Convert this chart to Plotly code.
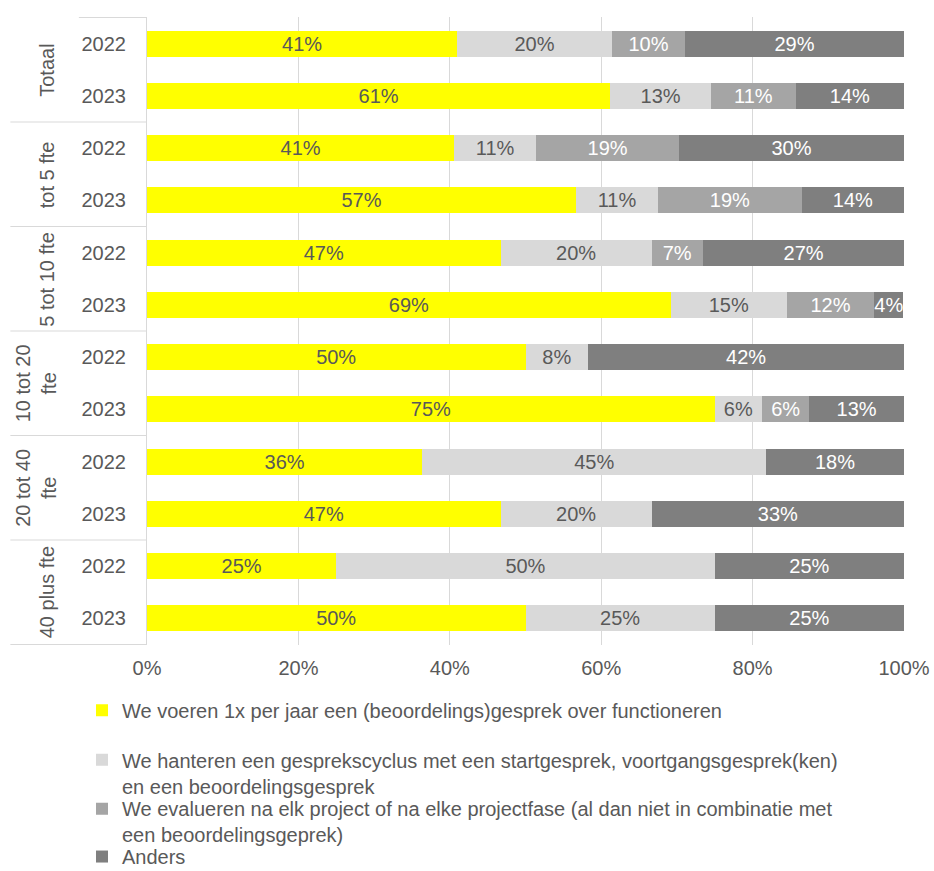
import plotly.graph_objects as go

# Size classes (group labels) and survey years
groups = ["Totaal", "tot 5 fte", "5 tot 10 fte", "10 tot 20<br>fte", "20 tot 40<br>fte", "40 plus fte"]
years = ["2022", "2023"]

# Share of respondents per answer (percent), order: group x year
jaarlijks = [41.0, 61.2, 40.6, 56.7, 46.7, 69.2, 50.0, 75.0, 36.36, 46.7, 25.0, 50.0]
cyclus = [20.4, 13.3, 10.8, 10.8, 20.0, 15.3, 8.3, 6.25, 45.45, 20.0, 50.0, 25.0]
project = [9.7, 11.2, 18.9, 19.0, 6.7, 11.6, None, 6.25, None, None, None, None]
anders = [28.9, 14.3, 29.7, 13.5, 26.7, 3.8, 41.7, 12.5, 18.18, 33.3, 25.0, 25.0]

# x-axis ticks
x_ticks = [0, 20, 40, 60, 80, 100]
x_tick_labels = ["0%", "20%", "40%", "60%", "80%", "100%"]

series_names = [
    "We voeren 1x per jaar een (beoordelings)gesprek over functioneren",
    "We hanteren een gesprekscyclus met een startgesprek, voortgangsgesprek(ken)<br>en een beoordelingsgesprek",
    "We evalueren na elk project of na elke projectfase (al dan niet in combinatie met<br>een beoordelingsgeprek)",
    "Anders",
]
series_values = [jaarlijks, cyclus, project, anders]
colors = ["#FFFF00", "#D9D9D9", "#A5A5A5", "#7F7F7F"]
text_colors = ["#595959", "#595959", "#FFFFFF", "#FFFFFF"]
legend_ids = ["legend", "legend2", "legend3", "legend4"]
legend_tops = [0.207, 0.150, 0.094, 0.039]  # container fraction, from the bottom

TXT = "#595959"
FONT = "Liberation Sans, Arial, sans-serif"
FS = 20

# unique category keys, displayed as the year only
cats = [f"{g}|{y}" for g in groups for y in years]
tick_text = [y for g in groups for y in years]

fig = go.Figure()
for name, vals, col, tcol, lg in zip(series_names, series_values, colors, text_colors, legend_ids):
    fig.add_trace(go.Bar(
        y=cats, x=vals, name=name, orientation="h",
        marker=dict(color=col, line=dict(width=0)),
        texttemplate="%{x:.0f}%", textposition="inside", textangle=0,
        insidetextanchor="middle", constraintext="none",
        textfont=dict(color=tcol, size=FS, family=FONT),
        hoverinfo="skip", legend=lg,
    ))

legend_common = dict(
    orientation="v", xref="container", yref="container",
    x=82 / 934, xanchor="left", yanchor="top",
    valign="top", itemwidth=30,
    font=dict(size=FS, color=TXT, family=FONT),
    bgcolor="rgba(0,0,0,0)",
)

fig.update_layout(
    barmode="stack",
    bargap=0.5,
    width=934, height=871,
    margin=dict(l=147, r=30, t=17, b=226, autoexpand=False),
    plot_bgcolor="white", paper_bgcolor="white",
    font=dict(family=FONT, color=TXT, size=FS),
    showlegend=True,
    xaxis=dict(
        range=[0, 100], tickmode="array",
        tickvals=x_ticks, ticktext=x_tick_labels,
        showgrid=True, gridcolor="#D9D9D9", gridwidth=1,
        zeroline=False, showline=False, ticks="",
        ticklabelstandoff=9, tickangle=0,
        tickfont=dict(size=FS, color=TXT),
        fixedrange=True,
    ),
    yaxis=dict(
        type="category", categoryorder="array", categoryarray=cats,
        autorange="reversed",
        tickvals=cats, ticktext=tick_text,
        showline=True, linecolor="#D9D9D9", linewidth=1,
        ticks="", ticklabelstandoff=16,
        tickfont=dict(size=FS, color=TXT),
        showgrid=False, fixedrange=True,
    ),
)
for lg, top in zip(legend_ids, legend_tops):
    fig.update_layout({lg: dict(legend_common, y=top)})

# group labels on the outer level of the category axis (rotated)
for i, g in enumerate(groups):
    xpx = 36 if "<br>" in g else 47
    fig.add_annotation(
        text=g, xref="paper", yref="y",
        x=(xpx - 147) / 757, y=2 * i + 0.5,
        xanchor="center", yanchor="middle",
        textangle=-90, showarrow=False,
        font=dict(size=FS, color=TXT, family=FONT),
    )

# divider lines between the groups
for i in range(len(groups)):
    fig.add_shape(
        type="line", xref="paper", yref="y",
        x0=-0.1805, x1=0, y0=2 * i + 1.5, y1=2 * i + 1.5,
        line=dict(color="#D9D9D9", width=1),
    )
fig.add_shape(
    type="line", xref="paper", yref="y",
    x0=-0.09, x1=0, y0=-0.5, y1=-0.5,
    line=dict(color="#D9D9D9", width=1),
)

fig.write_html("out.html")
